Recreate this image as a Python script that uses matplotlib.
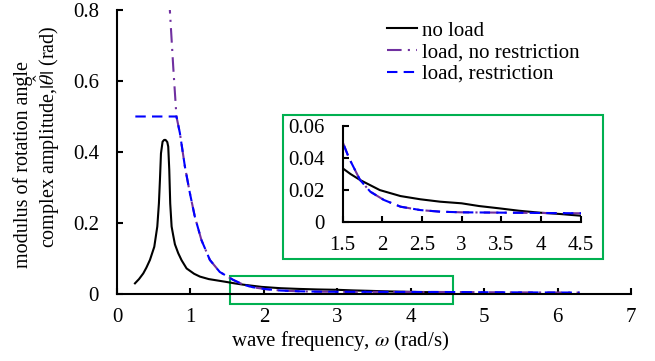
import matplotlib
matplotlib.use("Agg")
from matplotlib import pyplot as plt
from matplotlib.patches import Rectangle

plt.rcParams['font.family'] = ['Liberation Serif', 'DejaVu Serif']
plt.rcParams['mathtext.fontset'] = 'stix'

# no load response
omega_noload = [0.245, 0.30, 0.358, 0.40, 0.449, 0.508, 0.549, 0.571, 0.585, 0.599, 0.621,
                0.642, 0.662, 0.685, 0.698, 0.712, 0.725, 0.744, 0.766, 0.789, 0.834, 0.88,
                0.948, 1.05, 1.13, 1.25, 1.4, 1.5, 1.6, 1.72, 1.97, 2.23, 2.48, 2.73, 3.0,
                3.22, 3.47, 3.72, 3.98, 4.23, 4.5]
theta_noload = [0.030, 0.042, 0.058, 0.074, 0.096, 0.133, 0.19, 0.255, 0.321, 0.396, 0.429,
                0.434, 0.434, 0.428, 0.415, 0.35, 0.255, 0.19, 0.165, 0.140, 0.115, 0.095,
                0.072, 0.057, 0.049, 0.042, 0.037, 0.0336, 0.030, 0.0263, 0.020, 0.0163,
                0.0143, 0.0128, 0.0118, 0.0101, 0.0087, 0.0072, 0.006, 0.0052, 0.0041]

# load, no restriction
omega_load = [0.70, 0.72, 0.766, 0.81, 0.857, 0.925, 0.993, 1.06, 1.15, 1.265, 1.40, 1.5,
              1.58, 1.72, 1.85, 2.02, 2.23, 2.48, 2.73, 3.0, 3.5, 4.0, 4.5, 5.0, 5.5, 6.0, 6.3]
theta_load = [0.87, 0.80, 0.64, 0.50, 0.453, 0.359, 0.284, 0.218, 0.152, 0.096, 0.062, 0.050,
              0.040, 0.0263, 0.019, 0.0139, 0.0097, 0.0076, 0.0066, 0.0062, 0.0060, 0.0058,
              0.0056, 0.005, 0.0045, 0.0042, 0.004]

# load, restriction (capped at 0.5)
omega_restr = [0.25, 0.81, 0.857, 0.925, 0.993, 1.06, 1.15, 1.265, 1.40, 1.5, 1.58, 1.72,
               1.85, 2.02, 2.23, 2.48, 2.73, 3.0, 3.5, 4.0, 4.5, 5.0, 5.5, 6.0, 6.3]
theta_restr = [0.50, 0.50, 0.453, 0.359, 0.284, 0.218, 0.152, 0.096, 0.062, 0.050, 0.040,
               0.0263, 0.019, 0.0139, 0.0097, 0.0076, 0.0066, 0.0062, 0.0060, 0.0058, 0.0056,
               0.005, 0.0045, 0.0042, 0.004]

labels = ['no load', 'load, no restriction', 'load, restriction']

x_ticks = [0, 1, 2, 3, 4, 5, 6, 7]
y_ticks = [0, 0.2, 0.4, 0.6, 0.8]
y_ticklabels = ['0', '0.2', '0.4', '0.6', '0.8']
xin_ticks = [1.5, 2, 2.5, 3, 3.5, 4, 4.5]
xin_ticklabels = ['1.5', '2', '2.5', '3', '3.5', '4', '4.5']
yin_ticks = [0, 0.02, 0.04, 0.06]
yin_ticklabels = ['0', '0.02', '0.04', '0.06']

GREEN = '#00B050'
PURPLE = '#7030A0'
BLUE = '#0000FF'
FS = 15


def draw_curves(ax):
    ax.plot(omega_noload, theta_noload, color='black', lw=1.5, label=labels[0])
    ax.plot(omega_load, theta_load, color=PURPLE, lw=1.5, dashes=(7, 3, 1, 3), label=labels[1])
    ax.plot(omega_restr, theta_restr, color=BLUE, lw=1.5, dashes=(5, 3), label=labels[2])


def style_axes(ax, xpad, ypad):
    for side in ['top', 'right']:
        ax.spines[side].set_visible(False)
    for side in ['left', 'bottom']:
        ax.spines[side].set_linewidth(1.5)
    ax.tick_params(direction='in', length=4, width=1.5, labelsize=FS)
    ax.tick_params(axis='x', pad=xpad)
    ax.tick_params(axis='y', pad=ypad)


fig = plt.figure(figsize=(6.55, 3.61), dpi=100)

# main axes
ax = fig.add_axes([0.1786, 0.1856, 0.7847, 0.7867])
draw_curves(ax)
ax.set_xlim(0, 7)
ax.set_ylim(0, 0.8)
ax.set_xticks(x_ticks)
ax.set_yticks(y_ticks)
ax.set_yticklabels(y_ticklabels)
style_axes(ax, 10, 13)

# zoom region marker
ax.add_patch(Rectangle((1.54, -0.029), 3.04, 0.081, fill=False, ec=GREEN, lw=1.5, clip_on=False))

ax.legend(loc='upper left', bbox_to_anchor=(387 / 655, 1 - 21 / 361),
          bbox_transform=fig.transFigure, frameon=False, borderpad=0, borderaxespad=0,
          handlelength=1.45, handletextpad=0.25, labelspacing=0.1, fontsize=FS)

fig.text(340 / 655, 1 - 341 / 361, r'wave frequency, $\omega$ (rad/s)',
         ha='center', va='center', fontsize=FS)
fig.text(23 / 655, 1 - 164 / 361, 'modulus of rotation angle',
         rotation=90, ha='center', va='center', fontsize=14.5)
fig.text(47 / 655, 1 - 137 / 361, r'complex amplitude,$|\hat{\theta}|$ (rad)',
         rotation=90, ha='center', va='center', fontsize=14.5)

# inset frame and inset axes
fig.add_artist(Rectangle((0.4326, 0.2817), 0.4874, 0.3997, transform=fig.transFigure,
                         fill=False, ec=GREEN, lw=1.5))
ax_in = fig.add_axes([0.523, 0.3842, 0.3634, 0.2676])
draw_curves(ax_in)
ax_in.set_xlim(1.5, 4.5)
ax_in.set_ylim(0, 0.06)
ax_in.set_xticks(xin_ticks)
ax_in.set_xticklabels(xin_ticklabels)
ax_in.set_yticks(yin_ticks)
ax_in.set_yticklabels(yin_ticklabels)
style_axes(ax_in, 10, 13)

fig.savefig('out.png', dpi=100)
